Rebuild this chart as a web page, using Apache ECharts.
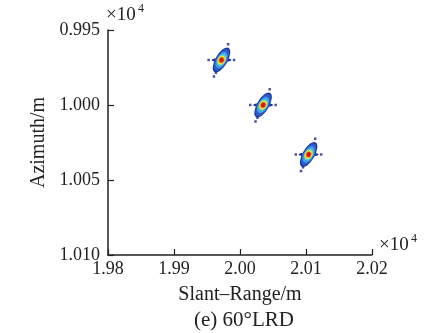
<!DOCTYPE html>
<html><head><meta charset="utf-8">
<script src="https://cdn.jsdelivr.net/npm/echarts@6/dist/echarts.min.js"></script>
<style>html,body{margin:0;padding:0;background:#fff}#c{width:428px;height:333px}</style>
</head><body><div id="c"></div>
<script>
// Slant-range (m) and azimuth (m) of the three point targets
const targetRange = [19972, 20035, 20104];
const targetAzimuth = [9970, 10000, 10033];
// sidelobe dots relative to each target centre (m): [dRange, dAzimuth]
const sidelobeDR = [-19.5, 19.0, 10.0, -11.5, -8.5];
const sidelobeDA = [0, 0, -10.5, 11.0, 8.5];
const xTicks = [19800, 19900, 20000, 20100, 20200];
const yTicks = [9950, 10000, 10050, 10100];

const FONT = 'Liberation Serif';
const centers = targetRange.map((r, i) => [r, targetAzimuth[i]]);
const dots = [];
targetRange.forEach((r, i) => {
  sidelobeDR.forEach((d, k) => dots.push([r + d, targetAzimuth[i] + sidelobeDA[k]]));
});

// lobe layers: [length, width, rotation, colour]
const layers = [
  [20, 4, 0, '#1d2f9a'],
  [28, 12, 60, '#1d2f9a'],
  [14, 5.5, 0, '#2d5acb'],
  [25, 10.5, 60, '#2d5acb'],
  [18, 9.5, 60, '#3f9fe8'],
  [12.5, 8, 60, '#5cd8c4'],
  [9, 7, 60, '#f2e22a'],
  [6.5, 5.5, 60, '#f5901c'],
  [5, 4.5, 60, '#dc1a14']
];
const series = [{
  type: 'scatter', data: dots, symbol: 'rect', symbolSize: 2.5,
  itemStyle: {color: '#1b2a8f'}, silent: true, z: 2
}];
layers.forEach((l, i) => series.push({
  type: 'scatter', data: centers, symbol: 'circle',
  symbolSize: [l[0], l[1]], symbolRotate: l[2],
  itemStyle: {color: l[3], opacity: 1}, silent: true, z: 3 + i
}));

const chart = echarts.init(document.getElementById('c'), null, {renderer: 'canvas'});
chart.setOption({
  animation: false,
  backgroundColor: '#fff',
  textStyle: {fontFamily: FONT},
  grid: {left: 108, right: 56, top: 30, bottom: 78},
  title: {
    text: '(e) 60°LRD', left: 239, textAlign: 'center', top: 305,
    textStyle: {fontFamily: FONT, fontSize: 21, fontWeight: 'normal', color: '#222'}
  },
  xAxis: {
    type: 'value', min: xTicks[0], max: xTicks[xTicks.length - 1], interval: 100,
    name: 'Slant\u2013Range/m', nameLocation: 'middle', nameGap: 30,
    nameTextStyle: {fontFamily: FONT, fontSize: 20, color: '#222'},
    axisLine: {lineStyle: {color: '#222', width: 1.5}},
    axisTick: {inside: true, length: 6, lineStyle: {color: '#222', width: 1.2}},
    axisLabel: {fontFamily: FONT, fontSize: 18, color: '#222', margin: 5,
      formatter: v => (v / 1e4).toFixed(2)},
    splitLine: {show: false}
  },
  yAxis: {
    type: 'value', inverse: true, min: yTicks[0], max: yTicks[yTicks.length - 1], interval: 50,
    name: 'Azimuth/m', nameLocation: 'middle', nameGap: 56, nameRotate: 90,
    nameTextStyle: {fontFamily: FONT, fontSize: 20, color: '#222'},
    axisLine: {lineStyle: {color: '#222', width: 1.5}},
    axisTick: {inside: true, length: 6, lineStyle: {color: '#222', width: 1.2}},
    axisLabel: {fontFamily: FONT, fontSize: 18, color: '#222', margin: 8,
      formatter: v => (v / 1e4).toFixed(3)},
    splitLine: {show: false}
  },
  graphic: [
    {type: 'text', left: 106, top: 6, style: {text: '×10', fontFamily: FONT, fontSize: 19, fill: '#222'}},
    {type: 'text', left: 138, top: 3, style: {text: '4', fontFamily: FONT, fontSize: 12, fill: '#222'}},
    {type: 'text', left: 379, top: 236, style: {text: '×10', fontFamily: FONT, fontSize: 19, fill: '#222'}},
    {type: 'text', left: 411, top: 233, style: {text: '4', fontFamily: FONT, fontSize: 12, fill: '#222'}}
  ],
  series: series
});
</script></body></html>
